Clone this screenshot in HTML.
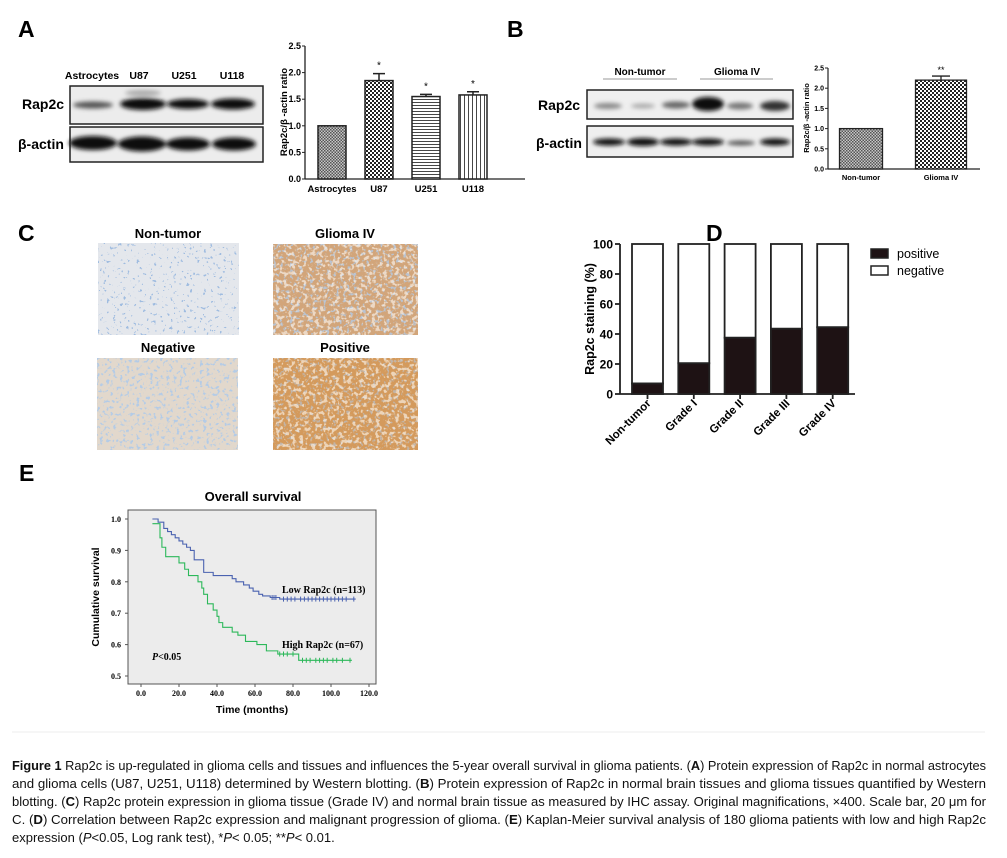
<!DOCTYPE html>
<html><head><meta charset="utf-8"><style>
html,body{margin:0;padding:0;background:#fff;}
svg{display:block;font-family:"Liberation Sans",Arial,sans-serif;}
</style></head><body>
<svg id="fig" width="1007" height="858" viewBox="0 0 1007 858" xmlns="http://www.w3.org/2000/svg">
<defs>
  <pattern id="pChkFine" width="3" height="3" patternUnits="userSpaceOnUse"><rect width="3" height="3" fill="#c8c8c8"/><rect width="1.5" height="1.5" fill="#555"/><rect x="1.5" y="1.5" width="1.5" height="1.5" fill="#555"/></pattern>
  <pattern id="pChk" width="4" height="4" patternUnits="userSpaceOnUse"><rect width="4" height="4" fill="#fff"/><rect width="2" height="2" fill="#222"/><rect x="2" y="2" width="2" height="2" fill="#222"/></pattern>
  <pattern id="pHor" width="4" height="3" patternUnits="userSpaceOnUse"><rect width="4" height="3" fill="#fff"/><rect width="4" height="0.9" fill="#333"/></pattern>
  <pattern id="pVer" width="4" height="4" patternUnits="userSpaceOnUse"><rect width="4" height="4" fill="#fff"/><rect width="0.9" height="4" fill="#333"/></pattern>
  <filter id="blur2"><feGaussianBlur stdDeviation="2.2"/></filter>
  <filter id="tNon"><feTurbulence type="fractalNoise" baseFrequency="0.3" numOctaves="2" seed="3"/><feColorMatrix values="0 0 0 0 0.35  0 0 0 0 0.5  0 0 0 0 0.75  0 0 0 -22 7.2"/><feComposite in2="SourceGraphic" operator="in"/></filter>
  <filter id="tTum"><feTurbulence type="fractalNoise" baseFrequency="0.3" numOctaves="2" seed="7"/><feColorMatrix values="0 0 0 0 0.45  0 0 0 0 0.6  0 0 0 0 0.8  0 0 0 -8 3.4"/><feComposite in2="SourceGraphic" operator="in"/></filter>
  <filter id="tLight"><feTurbulence type="fractalNoise" baseFrequency="0.25" numOctaves="2" seed="11"/><feColorMatrix values="0 0 0 0 1  0 0 0 0 0.97  0 0 0 0 0.92  0 0 0 -8 3.8"/><feComposite in2="SourceGraphic" operator="in"/></filter>
</defs>

<text x="18" y="37" font-size="23" font-weight="bold">A</text>
<text x="507" y="37" font-size="23" font-weight="bold">B</text>
<text x="18" y="241" font-size="23" font-weight="bold">C</text>
<text x="706" y="241" font-size="23" font-weight="bold">D</text>
<text x="19" y="481" font-size="23" font-weight="bold">E</text>

<g>
  <text x="92" y="79" font-size="10.5" font-weight="bold" text-anchor="middle">Astrocytes</text>
  <text x="139" y="79" font-size="10.5" font-weight="bold" text-anchor="middle">U87</text>
  <text x="184" y="79" font-size="10.5" font-weight="bold" text-anchor="middle">U251</text>
  <text x="232" y="79" font-size="10.5" font-weight="bold" text-anchor="middle">U118</text>
  <text x="22" y="109" font-size="14" font-weight="bold">Rap2c</text>
  <text x="18" y="149" font-size="14" font-weight="bold">β-actin</text>
  <rect x="70" y="86" width="193" height="38" fill="#ececec" stroke="#222" stroke-width="1.5"/>
  <rect x="70" y="127" width="193" height="35" fill="#ededed" stroke="#222" stroke-width="1.5"/>
  <g filter="url(#blur2)" fill="#111">
    <ellipse cx="93" cy="105" rx="20" ry="3.5" fill="#555"/>
    <ellipse cx="143" cy="104" rx="23" ry="6"/>
    <ellipse cx="188" cy="104" rx="21" ry="5"/>
    <ellipse cx="233" cy="104" rx="22" ry="5.5"/>
    <ellipse cx="143" cy="93" rx="18" ry="3" fill="#aaa"/>
    <ellipse cx="93" cy="143" rx="24" ry="7"/>
    <ellipse cx="142" cy="144" rx="24" ry="7.5"/>
    <ellipse cx="188" cy="144" rx="22" ry="6.5"/>
    <ellipse cx="234" cy="144" rx="22" ry="6.5"/>
  </g>
</g>

<g id="chartA"></g>

<g>
  <text x="640" y="75" font-size="10" font-weight="bold" text-anchor="middle">Non-tumor</text>
  <line x1="603" y1="79" x2="677" y2="79" stroke="#999" stroke-width="1"/>
  <text x="737" y="75" font-size="10" font-weight="bold" text-anchor="middle">Glioma IV</text>
  <line x1="700" y1="79" x2="773" y2="79" stroke="#999" stroke-width="1"/>
  <text x="538" y="110" font-size="14" font-weight="bold">Rap2c</text>
  <text x="536" y="148" font-size="14" font-weight="bold">β-actin</text>
  <rect x="587" y="90" width="206" height="29" fill="#efefef" stroke="#222" stroke-width="1.5"/>
  <rect x="587" y="126" width="206" height="31" fill="#efefef" stroke="#222" stroke-width="1.5"/>
  <g filter="url(#blur2)" fill="#111">
    <ellipse cx="608" cy="106" rx="14" ry="3" fill="#888"/>
    <ellipse cx="643" cy="106" rx="12" ry="2.5" fill="#aaa"/>
    <ellipse cx="676" cy="105" rx="14" ry="3.5" fill="#666"/>
    <ellipse cx="708" cy="104" rx="16" ry="7"/>
    <ellipse cx="740" cy="106" rx="13" ry="3.5" fill="#777"/>
    <ellipse cx="775" cy="106" rx="15" ry="5" fill="#333"/>
    <ellipse cx="609" cy="142" rx="16" ry="3.5"/>
    <ellipse cx="643" cy="142" rx="16" ry="4"/>
    <ellipse cx="676" cy="142" rx="16" ry="3.5"/>
    <ellipse cx="708" cy="142" rx="16" ry="3.5"/>
    <ellipse cx="741" cy="143" rx="14" ry="2.5" fill="#555"/>
    <ellipse cx="775" cy="142" rx="15" ry="3.5"/>
  </g>
</g>

<g id="chartB"></g>

<g>
  <text x="168" y="238" font-size="13" font-weight="bold" text-anchor="middle">Non-tumor</text>
  <text x="345" y="238" font-size="13" font-weight="bold" text-anchor="middle">Glioma IV</text>
  <text x="168" y="352" font-size="13" font-weight="bold" text-anchor="middle">Negative</text>
  <text x="345" y="352" font-size="13" font-weight="bold" text-anchor="middle">Positive</text>
  <g>
    <rect x="98" y="243" width="141" height="92" fill="#e4e7ec"/>
    <rect x="98" y="243" width="141" height="92" fill="#e4e7ec" filter="url(#tNon)"/>
  </g>
  <g>
    <rect x="273" y="244" width="145" height="91" fill="#d2a57a"/>
    <rect x="273" y="244" width="145" height="91" fill="#d2a57a" filter="url(#tTum)" opacity="0.8"/>
    <rect x="273" y="244" width="145" height="91" fill="#d2a57a" filter="url(#tLight)" opacity="0.6"/>
  </g>
  <g>
    <rect x="97" y="358" width="141" height="92" fill="#e2d8cc"/>
    <rect x="97" y="358" width="141" height="92" fill="#e2d8cc" filter="url(#tTum)"/>
  </g>
  <g>
    <rect x="273" y="358" width="145" height="92" fill="#d49a5c"/>
    <rect x="273" y="358" width="145" height="92" fill="#d49a5c" filter="url(#tTum)" opacity="0.55"/>
    <rect x="273" y="358" width="145" height="92" fill="#d49a5c" filter="url(#tLight)" opacity="0.6"/>
  </g>
</g>

<g id="chartD"></g>
<g id="chartE"></g>

<line x1="12" y1="732" x2="985" y2="732" stroke="#eee" stroke-width="1"/>

<g font-size="13" fill="#111">
  <text x="12" y="770" textLength="974" lengthAdjust="spacingAndGlyphs"><tspan font-weight="bold">Figure 1</tspan> Rap2c is up-regulated in glioma cells and tissues and influences the 5-year overall survival in glioma patients. (<tspan font-weight="bold">A</tspan>) Protein expression of Rap2c in normal astrocytes</text>
  <text x="12" y="788" textLength="974" lengthAdjust="spacingAndGlyphs">and glioma cells (U87, U251, U118) determined by Western blotting. (<tspan font-weight="bold">B</tspan>) Protein expression of Rap2c in normal brain tissues and glioma tissues quantified by Western</text>
  <text x="12" y="806" textLength="974" lengthAdjust="spacingAndGlyphs">blotting. (<tspan font-weight="bold">C</tspan>) Rap2c protein expression in glioma tissue (Grade IV) and normal brain tissue as measured by IHC assay. Original magnifications, ×400. Scale bar, 20 μm for</text>
  <text x="12" y="824" textLength="974" lengthAdjust="spacingAndGlyphs">C. (<tspan font-weight="bold">D</tspan>) Correlation between Rap2c expression and malignant progression of glioma. (<tspan font-weight="bold">E</tspan>) Kaplan-Meier survival analysis of 180 glioma patients with low and high Rap2c</text>
  <text x="12" y="842">expression (<tspan font-style="italic">P</tspan>&lt;0.05, Log rank test), *<tspan font-style="italic">P</tspan>&lt; 0.05; **<tspan font-style="italic">P</tspan>&lt; 0.01.</text>
</g>
</svg>

<script>
const aCats = ["Astrocytes","U87","U251","U118"];
const aVals = [1.0, 1.85, 1.55, 1.58];
const aErrs = [0, 0.13, 0.04, 0.06];
const aStars = ["", "*", "*", "*"];
const aTicks = [0.0, 0.5, 1.0, 1.5, 2.0, 2.5];
const bCats = ["Non-tumor","Glioma IV"];
const bVals = [1.0, 2.2];
const bErrs = [0, 0.1];
const bStars = ["", "**"];
const bTicks = [0.0, 0.5, 1.0, 1.5, 2.0, 2.5];
const dCats = ["Non-tumor","Grade I","Grade II","Grade III","Grade IV"];
const dPositive = [7, 20.5, 37.5, 43.5, 44.5];
const dTicks = [0, 20, 40, 60, 80, 100];
const lowT = [0, 9, 12, 14, 16, 18, 20, 22, 24, 26, 28, 33, 38, 48, 50, 54, 57, 59, 62, 64, 68, 73, 113];
const lowS = [1.0, 0.99, 0.97, 0.96, 0.95, 0.94, 0.93, 0.92, 0.91, 0.90, 0.87, 0.83, 0.82, 0.81, 0.80, 0.79, 0.78, 0.77, 0.76, 0.755, 0.75, 0.745, 0.745];
const highT = [0, 9, 10, 11, 13, 20, 23, 25, 30, 32, 33, 35, 38, 40, 41, 43, 48, 51, 55, 61, 66, 72, 83, 111];
const highS = [0.985, 0.985, 0.94, 0.91, 0.88, 0.86, 0.84, 0.82, 0.80, 0.78, 0.76, 0.73, 0.71, 0.69, 0.67, 0.655, 0.64, 0.63, 0.61, 0.60, 0.58, 0.57, 0.55, 0.55];
const lowCens = [69, 70, 71, 75, 77, 79, 81, 84, 86, 88, 90, 92, 94, 96, 98, 100, 102, 104, 106, 108, 112];
const highCens = [73, 75, 77, 80, 85, 87, 89, 92, 94, 96, 98, 101, 103, 106, 110];
const eXTicks = [0, 20, 40, 60, 80, 100, 120];
const eYTicks = [0.5, 0.6, 0.7, 0.8, 0.9, 1.0];

const NS = "http://www.w3.org/2000/svg";
function mk(tag, attrs, parent, txt) {
  const e = document.createElementNS(NS, tag);
  for (const k in attrs) e.setAttribute(k, attrs[k]);
  if (txt !== undefined) e.textContent = txt;
  parent.appendChild(e);
  return e;
}

(function(){
  const g = document.getElementById("chartA");
  const x0 = 305, x1 = 525, yB = 179, yT = 46, vMax = 2.5;
  const y = v => yB - (v / vMax) * (yB - yT);
  const xc = i => 332 + i * 47;
  const fills = ["url(#pChkFine)","url(#pChk)","url(#pHor)","url(#pVer)"];
  mk("line",{x1:x0,y1:yT,x2:x0,y2:yB,stroke:"#222","stroke-width":1.3},g);
  mk("line",{x1:x0,y1:yB,x2:x1,y2:yB,stroke:"#222","stroke-width":1.3},g);
  aTicks.forEach(t=>{
    const tl = mk("line",{x1:x0-3,y1:y(t),x2:x0,y2:y(t),stroke:"#222"},g);
    
    
    const lb = mk("text",{x:x0-4,y:y(t)+3,"font-size":9,"font-weight":"bold","text-anchor":"end"},g,t.toFixed(1));
    
    
  });
  const yl = mk("text",{x:0,y:0,"font-size":9.5,"font-weight":"bold","text-anchor":"middle",transform:"translate(287,112) rotate(-90)"},g,"Rap2c/β -actin ratio");
  
  
  aCats.forEach((c,i)=>{
    const cx = xc(i), w = 28;
    const b = mk("rect",{x:cx-w/2,y:y(aVals[i]),width:w,height:yB-y(aVals[i]),fill:fills[i],stroke:"#222","stroke-width":1.5},g);
    
    
    if (aErrs[i] > 0) {
      const e1 = mk("path",{d:`M${cx},${y(aVals[i])} V${y(aVals[i]+aErrs[i])} M${cx-6},${y(aVals[i]+aErrs[i])} H${cx+6}`,stroke:"#222","stroke-width":1.5,fill:"none"},g);
      
      
    }
    const s = mk("text",{x:cx,y:y(aVals[i]+aErrs[i])-5,"font-size":10,"text-anchor":"middle"},g,aStars[i]);
    
    
    const l = mk("text",{x:cx,y:192,"font-size":9.5,"font-weight":"bold","text-anchor":"middle"},g,c);
    
    
  });
})();

(function(){
  const g = document.getElementById("chartB");
  const x0 = 828, x1 = 980, yB = 169, yT = 68, vMax = 2.5;
  const y = v => yB - (v / vMax) * (yB - yT);
  const xc = i => 861 + i * 80;
  const ws = [43, 51];
  const fills = ["url(#pChkFine)","url(#pChk)"];
  mk("line",{x1:x0,y1:yT,x2:x0,y2:yB,stroke:"#222","stroke-width":1.2},g);
  mk("line",{x1:x0,y1:yB,x2:x1,y2:yB,stroke:"#222","stroke-width":1.2},g);
  bTicks.forEach(t=>{
    const tl = mk("line",{x1:x0-3,y1:y(t),x2:x0,y2:y(t),stroke:"#222"},g);
    
    
    const lb = mk("text",{x:x0-4,y:y(t)+2.5,"font-size":7,"font-weight":"bold","text-anchor":"end"},g,t.toFixed(1));
    
    
  });
  const yl = mk("text",{x:0,y:0,"font-size":7.5,"font-weight":"bold","text-anchor":"middle",transform:"translate(809,118) rotate(-90)"},g,"Rap2c/β -actin ratio");
  
  
  bCats.forEach((c,i)=>{
    const cx = xc(i), w = ws[i];
    const b = mk("rect",{x:cx-w/2,y:y(bVals[i]),width:w,height:yB-y(bVals[i]),fill:fills[i],stroke:"#222","stroke-width":1.3},g);
    
    
    if (bErrs[i] > 0) {
      const e1 = mk("path",{d:`M${cx},${y(bVals[i])} V${y(bVals[i]+bErrs[i])} M${cx-9},${y(bVals[i]+bErrs[i])} H${cx+9}`,stroke:"#222","stroke-width":1.3,fill:"none"},g);
      
      
    }
    const s = mk("text",{x:cx,y:y(bVals[i]+bErrs[i])-3,"font-size":9,"text-anchor":"middle"},g,bStars[i]);
    
    
    const l = mk("text",{x:cx,y:180,"font-size":7.5,"font-weight":"bold","text-anchor":"middle"},g,c);
    
    
  });
})();

(function(){
  const g = document.getElementById("chartD");
  const x0 = 620, x1 = 855, yB = 394, yT = 244;
  const y = v => yB - (v / 100) * (yB - yT);
  const xc = i => 647.5 + i * 46.3;
  const w = 31;
  mk("line",{x1:x0,y1:yT,x2:x0,y2:yB,stroke:"#222","stroke-width":1.8},g);
  mk("line",{x1:x0,y1:yB,x2:x1,y2:yB,stroke:"#222","stroke-width":1.8},g);
  dTicks.forEach(t=>{
    const tl = mk("line",{x1:x0-5,y1:y(t),x2:x0,y2:y(t),stroke:"#222","stroke-width":1.8},g);
    
    
    const lb = mk("text",{x:x0-7,y:y(t)+4.5,"font-size":12,"font-weight":"bold","text-anchor":"end"},g,String(t));
    
    
  });
  const yl = mk("text",{x:0,y:0,"font-size":12.5,"font-weight":"bold","text-anchor":"middle",transform:"translate(594,319) rotate(-90)"},g,"Rap2c staining (%)");
  
  
  dCats.forEach((c,i)=>{
    const cx = xc(i);
    const neg = mk("rect",{x:cx-w/2,y:y(100),width:w,height:y(dPositive[i])-y(100),fill:"#fff",stroke:"#222","stroke-width":1.8},g);
    
    
    const pos = mk("rect",{x:cx-w/2,y:y(dPositive[i]),width:w,height:yB-y(dPositive[i]),fill:"#1e1214",stroke:"#222","stroke-width":1.8},g);
    
    
    mk("line",{x1:cx,y1:yB,x2:cx,y2:yB+5,stroke:"#222","stroke-width":1.8},g);
    const l = mk("text",{x:0,y:0,"font-size":11.5,"font-weight":"bold","text-anchor":"end",transform:`translate(${cx+4},${yB+10}) rotate(-45)`},g,c);
    
    
  });
  const lg = mk("g",{},g);
  
  
  const r1 = mk("rect",{x:871,y:249,width:17,height:9,fill:"#1e1214",stroke:"#222","stroke-width":1.5},lg);
  
  
  const t1 = mk("text",{x:897,y:258,"font-size":12.5},lg,"positive");
  
  
  const r2 = mk("rect",{x:871,y:266,width:17,height:9,fill:"#fff",stroke:"#222","stroke-width":1.5},lg);
  
  
  const t2 = mk("text",{x:897,y:275,"font-size":12.5},lg,"negative");
  
  
})();

(function(){
  const g = document.getElementById("chartE");
  const bx0 = 128, bx1 = 376, by0 = 510, by1 = 684;
  const x = t => 141 + (t / 120) * (369 - 141);
  const y = s => 676 - ((s - 0.5) / 0.5) * (676 - 519);
  const t = mk("text",{x:253,y:501,"font-size":13,"font-weight":"bold","text-anchor":"middle"},g,"Overall survival");
  
  
  const bg = mk("rect",{x:bx0,y:by0,width:bx1-bx0,height:by1-by0,fill:"#ececec",stroke:"#555","stroke-width":1},g);
  
  
  eYTicks.forEach(v=>{
    mk("line",{x1:bx0-3,y1:y(v),x2:bx0,y2:y(v),stroke:"#555"},g);
    const lb = mk("text",{x:bx0-7,y:y(v)+3,"font-size":8,"font-weight":"bold","font-family":"Liberation Serif, serif","text-anchor":"end"},g,v.toFixed(1));
    
    
  });
  eXTicks.forEach(v=>{
    mk("line",{x1:x(v),y1:by1,x2:x(v),y2:by1+3,stroke:"#555"},g);
    const lb = mk("text",{x:x(v),y:696,"font-size":8,"font-weight":"bold","font-family":"Liberation Serif, serif","text-anchor":"middle"},g,v.toFixed(1));
    
    
  });
  const xt = mk("text",{x:252,y:713,"font-size":10.5,"font-weight":"bold","text-anchor":"middle"},g,"Time (months)");
  
  
  const ytt = mk("text",{x:0,y:0,"font-size":10.5,"font-weight":"bold","text-anchor":"middle",transform:"translate(99,597) rotate(-90)"},g,"Cumulative survival");
  
  
  function stepPath(T,S){
    let d = `M${x(T[0]+6)},${y(S[0])}`;
    for (let i=1;i<T.length;i++){ d += ` H${x(T[i])} V${y(S[i])}`; }
    return d;
  }
  const low = mk("path",{d:stepPath(lowT,lowS),fill:"none",stroke:"#4a62b0","stroke-width":1.1},g);
  
  
  const high = mk("path",{d:stepPath(highT,highS),fill:"none",stroke:"#2cb85a","stroke-width":1.1},g);
  
  
  function survAt(T,S,tt){ let s=S[0]; for(let i=0;i<T.length;i++){ if(T[i]<=tt) s=S[i]; } return s; }
  lowCens.forEach(c=>{
    const m = mk("line",{x1:x(c),y1:y(survAt(lowT,lowS,c))-2.5,x2:x(c),y2:y(survAt(lowT,lowS,c))+2.5,stroke:"#4a62b0","stroke-width":1},g);
    
    
  });
  highCens.forEach(c=>{
    const m = mk("line",{x1:x(c),y1:y(survAt(highT,highS,c))-2.5,x2:x(c),y2:y(survAt(highT,highS,c))+2.5,stroke:"#2cb85a","stroke-width":1},g);
    
    
  });
  const l1 = mk("text",{x:282,y:593,"font-size":10,"font-weight":"bold","font-family":"Liberation Serif, serif"},g,"Low Rap2c (n=113)");
  
  
  const l2 = mk("text",{x:282,y:648,"font-size":10,"font-weight":"bold","font-family":"Liberation Serif, serif"},g,"High Rap2c (n=67)");
  
  
  const p = mk("text",{x:152,y:660,"font-size":10,"font-weight":"bold","font-family":"Liberation Serif, serif"},g);
  
  
  mk("tspan",{"font-style":"italic"},p,"P");
  mk("tspan",{},p,"<0.05");
})();
</script>
</body></html>
